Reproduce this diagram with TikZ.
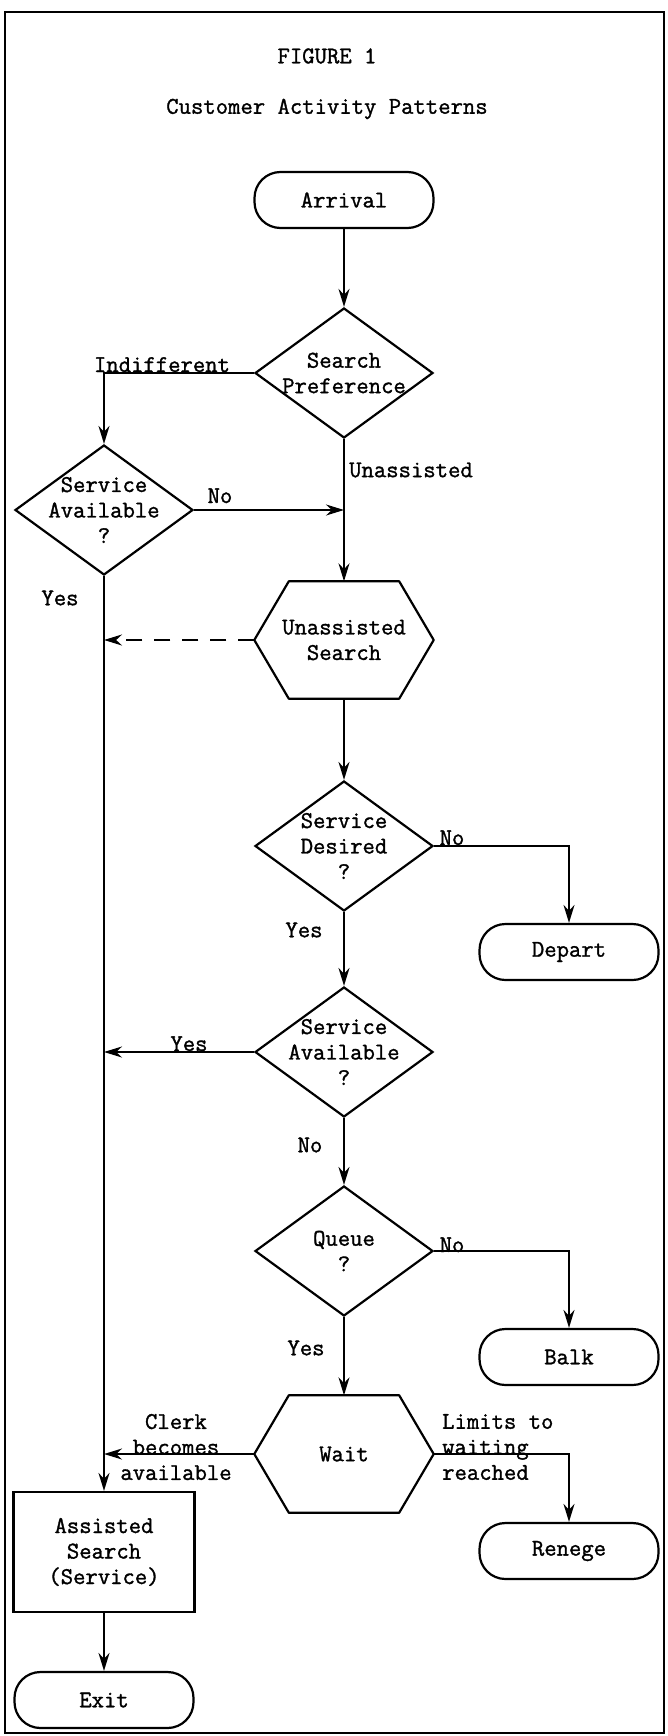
\documentclass[tikz,border=0pt]{standalone}
\usepackage{fontspec}
\setmonofont{Latin Modern Mono}[FakeBold=1.3]
\usetikzlibrary{shapes.geometric,arrows.meta}
\newcommand\hexpath[1]{\draw[line width=2.2pt,line join=round] ([xshift=34.5pt]#1.north west) -- ([xshift=-34.5pt]#1.north east) -- (#1.east) -- ([xshift=-34.5pt]#1.south east) -- ([xshift=34.5pt]#1.south west) -- (#1.west) -- cycle;}
\begin{document}
\begin{tikzpicture}[x=1pt,y=-1pt,
  every node/.style={font=\ttfamily\fontsize{24}{25.5}\selectfont},
  term/.style={draw, line width=2.2pt, rounded corners=26pt, minimum width=179pt, minimum height=56pt, inner sep=0pt},
  decision/.style={draw, diamond, line width=2.2pt, minimum width=178pt, minimum height=130pt, inner sep=-20pt, align=center},
  hexbox/.style={minimum width=179pt, minimum height=117pt, inner sep=0pt, align=center},
  procbox/.style={draw, rectangle, line width=2.2pt, minimum width=181pt, minimum height=120pt, inner sep=0pt, align=center},
  conn/.style={line width=1.9pt, -{Stealth[length=18pt,width=11pt]}},
  lbl/.style={inner sep=0pt, align=center}
]
\useasboundingbox (0,0) rectangle (667,1736);
\draw[line width=1.4pt] (5,12) rectangle (664,1733);

\node[lbl] (title) at (327,56) {FIGURE 1};
\node[lbl] (subtitle) at (327,109) {Customer Activity Patterns};

% main nodes
\node[term] (arr) at (344,200) {Arrival};
\node[decision] (sp) at (344,373) {Search\\Preference};
\node[decision] (sa1) at (104,510) {Service\\Available\\?};
\node[hexbox] (us) at (344,640) {Unassisted\\Search};
\hexpath{us}
\node[decision] (sd) at (344,846) {Service\\Desired\\?};
\node[term] (dep) at (569,952) {Depart};
\node[decision] (sa2) at (344,1052) {Service\\Available\\?};
\node[decision] (q) at (344,1251) {Queue\\?};
\node[term] (balk) at (569,1357) {Balk};
\node[hexbox] (wait) at (344,1454) {Wait};
\hexpath{wait}
\node[term] (ren) at (569,1551) {Renege};
\node[procbox] (as) at (104,1552) {Assisted\\Search\\(Service)};
\node[term] (exit) at (104,1700) {Exit};

% helper coordinates
\coordinate (cInd) at (sa1.north |- sp.west);
\coordinate (cNo1) at (sp.south |- sa1.east);
\coordinate (cDash) at (sa1.south |- us.west);
\coordinate (cYes2) at (sa1.south |- sa2.west);
\coordinate (cClerk) at (sa1.south |- wait.west);

% connectors
\draw[conn] (arr) -- (sp);
\draw[conn] (sp.west) -- (cInd) -- (sa1.north);
\draw[conn] (sa1.east) -- (cNo1);
\draw[conn] (sp.south) -- (us.north);
\draw[conn, dash pattern=on 16pt off 12pt] (us.west) -- (cDash);
\draw[conn] (sa1.south) -- (as.north);
\draw[conn] (us.south) -- (sd.north);
\draw[conn] (sd.east) -| (dep.north);
\draw[conn] (sd.south) -- (sa2.north);
\draw[conn] (sa2.west) -- (cYes2);
\draw[conn] (sa2.south) -- (q.north);
\draw[conn] (q.east) -| (balk.north);
\draw[conn] (q.south) -- (wait.north);
\draw[conn] (wait.west) -- (cClerk);
\draw[conn] (wait.east) -| (ren.north);
\draw[conn] (as.south) -- (exit.north);

% labels
\node[lbl, anchor=base] (lInd) at (162,372) {Indifferent};
\node[lbl, anchor=base] (lNo1) at (220,503) {No};
\node[lbl, anchor=west] (lUn) at (349,470) {Unassisted};
\node[lbl] (lYes1) at (60,598) {Yes};
\node[lbl, anchor=base] (lNo2) at (452,845) {No};
\node[lbl] (lYes2) at (304,930) {Yes};
\node[lbl, anchor=base] (lYes3) at (189,1051) {Yes};
\node[lbl] (lNo3) at (310,1145) {No};
\node[lbl, anchor=base] (lNo4) at (452,1252) {No};
\node[lbl] (lYes4) at (306,1348) {Yes};
\node[lbl] (lClerk) at (176,1447) {Clerk\\becomes\\available};
\node[lbl, anchor=west, align=left] (lLim) at (442,1447) {Limits to\\waiting\\reached};
\end{tikzpicture}
\end{document}
